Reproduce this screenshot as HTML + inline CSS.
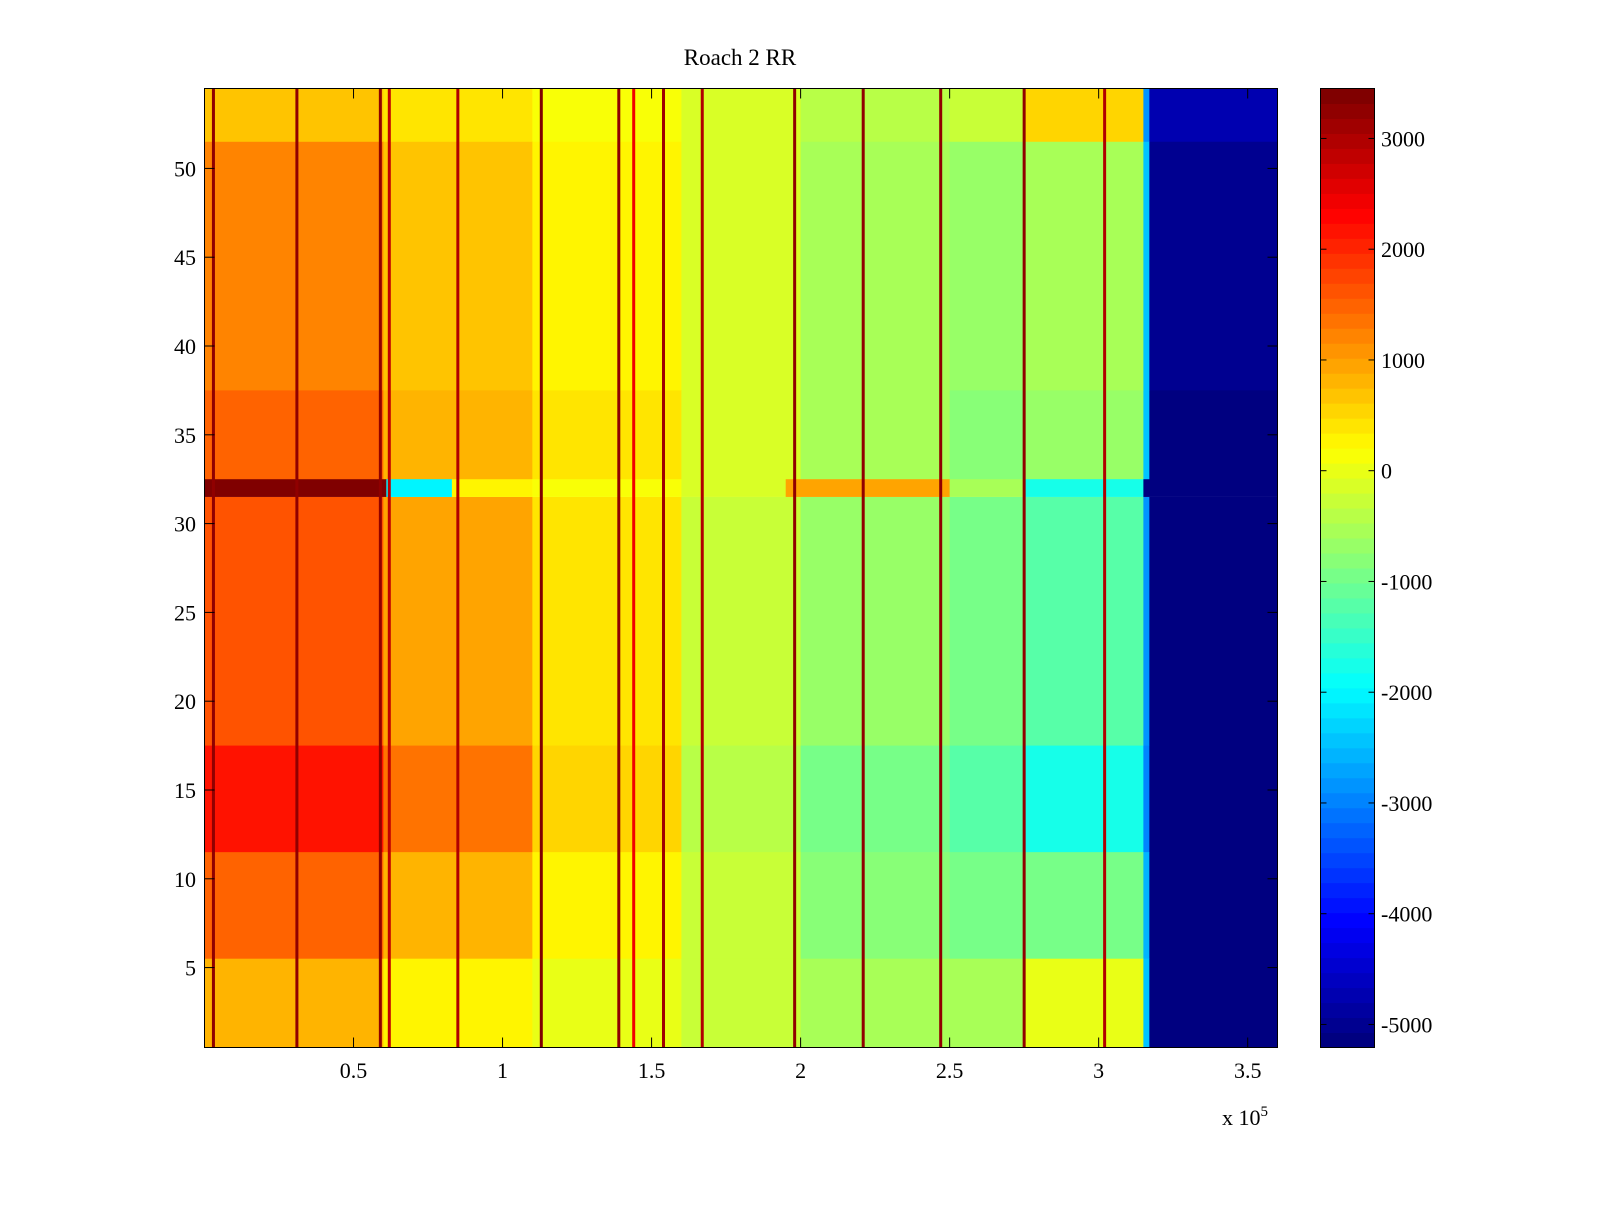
<!DOCTYPE html>
<html><head><meta charset="utf-8"><style>
body{margin:0;background:#fff;}
svg text{font-family:"Liberation Serif",serif;fill:#000;}
</style></head><body>
<svg id="chart" width="1600" height="1200" viewBox="0 0 1600 1200" xmlns="http://www.w3.org/2000/svg">
<rect width="1600" height="1200" fill="#fff"/>
<text x="740" y="65" font-size="23" text-anchor="middle">Roach 2 RR</text>
<g id="cells"></g>
<g id="stripes"></g>
<rect x="204.5" y="88.5" width="1073" height="959" fill="none" stroke="#000" stroke-width="1"/>
<g id="axes"></g>
<g id="cbar"></g>
<text x="1222" y="1125" font-size="22">x 10<tspan dy="-9" font-size="15">5</tspan></text>
</svg>
<script>
// column group boundaries (x data units, 1e5)
const groupEdges = [0, 0.6, 1.1, 1.6, 2.0, 2.5, 2.75, 3.15, 3.17, 3.6];
// row bands: [fromRow, toRow]
const bandRows = [[52,54],[38,51],[33,37],[18,31],[12,17],[6,11],[1,5]];
// values per band per group
const bandValues = [
  [700, 400, 200, -100, -400, -300, 600, -2800, -4800],
  [1200, 700, 300, -200, -500, -700, -600, -2500, -5000],
  [1500, 800, 400, -200, -600, -800, -700, -2500, -5100],
  [1600, 900, 400, -300, -700, -1000, -1200, -2800, -5200],
  [2200, 1300, 600, -400, -900, -1200, -1800, -3000, -5200],
  [1500, 800, 300, -300, -800, -900, -900, -2600, -5200],
  [800, 300, 0, -300, -600, -500, 0, -2400, -5200]
];
// row 32 special segments: [x0, x1, value]
const row32Starts = [0, 0.61, 0.83, 1.1, 1.6, 1.95, 2.5, 2.75, 3.15, 3.6];
const row32Values = [3400, -2000, 300, 100, -200, 900, -600, -1800, -5200];
// vertical stripes (x in 1e5) and values
const stripeX = [0.03, 0.31, 0.59, 0.62, 0.85, 1.13, 1.39, 1.44, 1.54, 1.67, 1.98, 2.21, 2.47, 2.75, 3.02];
const stripeV = [3300, 3300, 3200, 2800, 3000, 3400, 3300, 2500, 3100, 3000, 3300, 3300, 3300, 3300, 3000];
const yTicks = [5,10,15,20,25,30,35,40,45,50];
const xTicks = [0.5,1,1.5,2,2.5,3,3.5];
const cTicks = [3000,2000,1000,0,-1000,-2000,-3000,-4000,-5000];

const NS="http://www.w3.org/2000/svg";
const PX0=204.5, PX1=1277.5, PY0=88.5, PY1=1047.5;
const xs = v => PX0 + (v-0)/(3.6-0)*(PX1-PX0);
const ys = r => PY1 - (r-0.5)/54*(PY1-PY0);
const CMIN=-5208, CMAX=3451;
function jet(v){
  let t=(v-CMIN)/(CMAX-CMIN); t=Math.max(0,Math.min(1,t));
  t=Math.floor(t*63.999)/63;
  const f=x=>Math.max(0,Math.min(1,x));
  const r=f(Math.min(4*t-1.5,-4*t+4.5)), g=f(Math.min(4*t-0.5,-4*t+3.5)), b=f(Math.min(4*t+0.5,-4*t+2.5));
  return `rgb(${Math.round(r*255)},${Math.round(g*255)},${Math.round(b*255)})`;
}
function mk(tag,attrs,parent){const e=document.createElementNS(NS,tag);for(const k in attrs)e.setAttribute(k,attrs[k]);parent.appendChild(e);return e;}
const cells=document.getElementById('cells');
bandRows.forEach((br,bi)=>{
  for(let g=0; g<groupEdges.length-1; g++){
    const r=mk('rect',{x:xs(groupEdges[g]),y:ys(br[1]+0.5),width:xs(groupEdges[g+1])-xs(groupEdges[g])+0.5,height:ys(br[0]-0.5)-ys(br[1]+0.5)+0.5,fill:jet(bandValues[bi][g])},cells);
    
    
  }
});
for(let i=0;i<row32Values.length;i++){
  const r=mk('rect',{x:xs(row32Starts[i]),y:ys(32.5),width:xs(row32Starts[i+1])-xs(row32Starts[i])+0.5,height:ys(31.5)-ys(32.5),fill:jet(row32Values[i])},cells);
  
  
}
const st=document.getElementById('stripes');
stripeX.forEach((x,i)=>{
  const r=mk('rect',{x:xs(x)-1.5,y:PY0,width:3,height:PY1-PY0,fill:jet(stripeV[i])},st);
  
  
});
const ax=document.getElementById('axes');
yTicks.forEach(v=>{
  const y=ys(v);
  mk('line',{x1:PX0,x2:PX0+10,y1:y,y2:y,stroke:'#000'},ax);
  mk('line',{x1:PX1,x2:PX1-10,y1:y,y2:y,stroke:'#000'},ax);
  const t=mk('text',{x:196,y:y+8,'font-size':22,'text-anchor':'end'},ax);t.textContent=v;
  
  
});
xTicks.forEach(v=>{
  const x=xs(v);
  mk('line',{x1:x,x2:x,y1:PY1,y2:PY1-10,stroke:'#000'},ax);
  mk('line',{x1:x,x2:x,y1:PY0,y2:PY0+10,stroke:'#000'},ax);
  const t=mk('text',{x:x,y:1078,'font-size':22,'text-anchor':'middle'},ax);t.textContent=v;
  
  
});
const cb=document.getElementById('cbar');
const CX0=1320.5, CX1=1374.5;
const cy=v=>PY1-(v-CMIN)/(CMAX-CMIN)*(PY1-PY0);
for(let i=0;i<64;i++){
  const v0=CMIN+i*(CMAX-CMIN)/64, v1=CMIN+(i+1)*(CMAX-CMIN)/64;
  const r=mk('rect',{x:CX0,y:cy(v1),width:CX1-CX0,height:cy(v0)-cy(v1)+0.5,fill:jet((v0+v1)/2)},cb);
  
  
}
mk('rect',{x:CX0,y:PY0,width:CX1-CX0,height:PY1-PY0,fill:'none',stroke:'#000'},cb);
cTicks.forEach(v=>{
  const y=cy(v);
  mk('line',{x1:CX0,x2:CX0+6,y1:y,y2:y,stroke:'#000'},cb);
  mk('line',{x1:CX1,x2:CX1-6,y1:y,y2:y,stroke:'#000'},cb);
  const t=mk('text',{x:1381,y:y+8,'font-size':22},cb);t.textContent=v;
  
  
});
</script>
</body></html>
